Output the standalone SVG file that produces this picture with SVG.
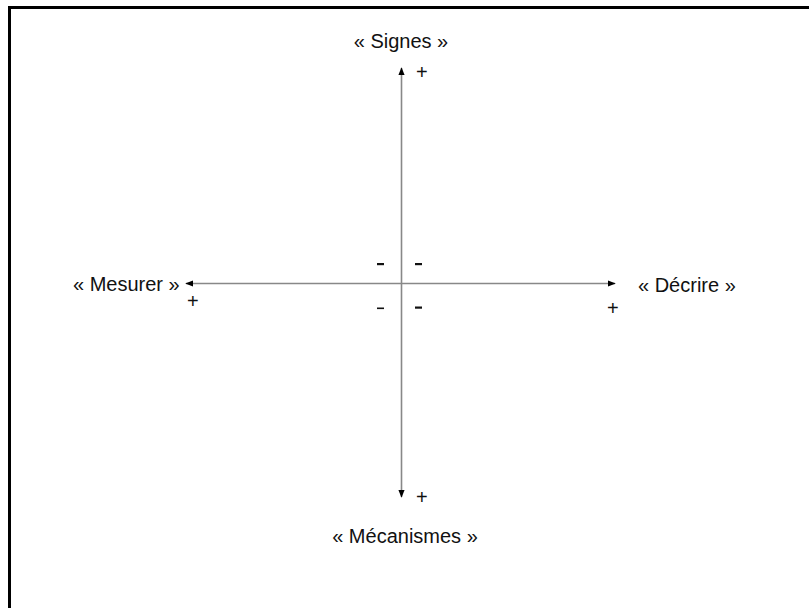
<svg xmlns="http://www.w3.org/2000/svg" width="809" height="608" viewBox="0 0 809 608">
<style>
text{font-family:"Liberation Sans",Arial,sans-serif;font-size:20px;fill:#111}
.lbl{text-anchor:middle}
.axis{stroke:#888;stroke-width:1.6;fill:none}
.pm{font-size:20px}
</style>
<defs>
<marker id="ah" viewBox="0 0 10 10" refX="9" refY="5" markerWidth="8" markerHeight="7" orient="auto-start-reverse" markerUnits="userSpaceOnUse" preserveAspectRatio="none">
<path d="M0,0.5 L10,5 L0,9.5 Z" fill="#000"/>
</marker>
</defs>
<rect width="809" height="608" fill="#fff"/>
<path d="M9.5,608 V7.5 H809" stroke="#000" stroke-width="3" fill="none"/>
<g id="connectors">
<line class="axis" x1="401.5" y1="68" x2="401.5" y2="497" marker-start="url(#ah)" marker-end="url(#ah)"/>
<line class="axis" x1="186" y1="283.5" x2="615" y2="283.5" marker-start="url(#ah)" marker-end="url(#ah)"/>
</g>
<g id="signes"><text class="lbl" x="401" y="48">« Signes »</text><text class="pm" x="416" y="79">+</text></g>
<g id="mesurer"><text x="73" y="291">« Mesurer »</text><text class="pm" x="187" y="308">+</text></g>
<g id="decrire"><text x="638" y="292">« Décrire »</text><text class="pm" x="607" y="315">+</text></g>
<g id="mecanismes"><text class="lbl" x="405" y="543">« Mécanismes »</text><text class="pm" x="416" y="504">+</text></g>
<g id="signs">
<rect x="377" y="263" width="7" height="2.2" fill="#111"/>
<rect x="415" y="263" width="7" height="2.2" fill="#111"/>
<rect x="377" y="307.5" width="7" height="1.6" fill="#111"/>
<rect x="415" y="306.5" width="7" height="2.2" fill="#111"/>
</g>
</svg>
